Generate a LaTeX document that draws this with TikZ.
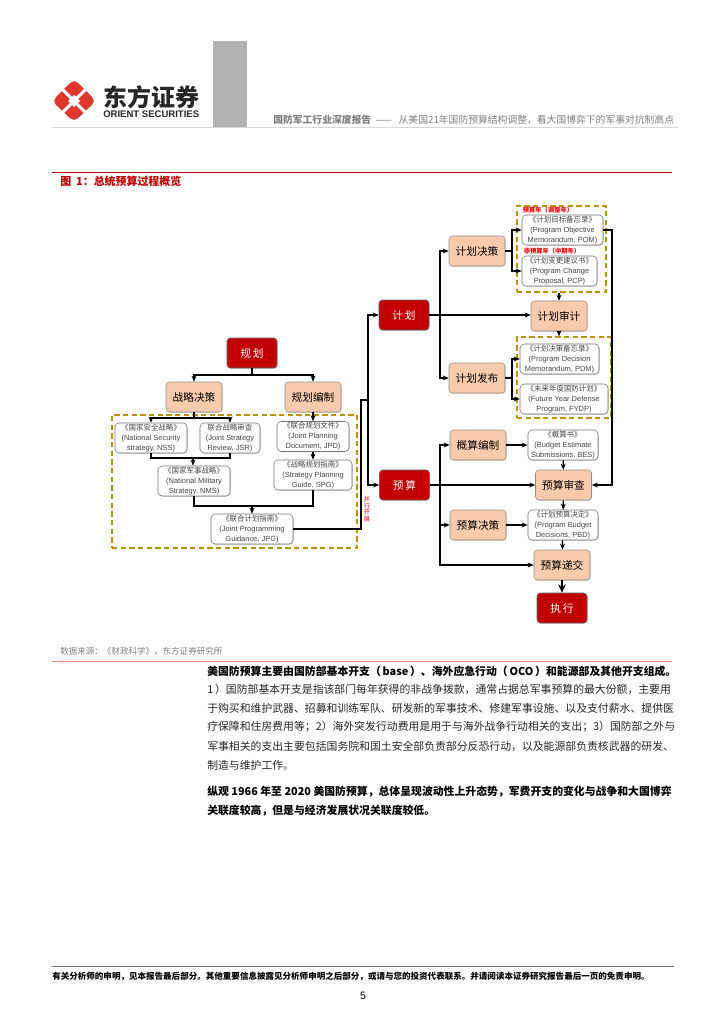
\documentclass[tikz,border=0pt]{standalone}
\usepackage{fontspec}
\setmainfont{Liberation Sans}
\newfontfamily\cjk{Noto Sans CJK SC}
\usetikzlibrary{arrows.meta,shadows}
\definecolor{brick}{RGB}{192,0,0}
\definecolor{peach}{RGB}{248,203,173}
\definecolor{gold}{RGB}{191,144,0}
\definecolor{logored}{RGB}{222,56,46}
\definecolor{ink}{RGB}{70,70,70}
\definecolor{salmon}{RGB}{240,130,130}
\tikzset{
  >={Stealth[length=1.6mm,width=1.3mm]},
  phase/.style={fill=brick,draw=black!60,rounded corners=2.5pt,text=white,minimum width=37.5pt,
    minimum height=22.5pt,inner sep=0pt,font=\cjk\fontsize{8}{9}\selectfont,
    drop shadow={opacity=0.45,shadow xshift=0.4pt,shadow yshift=-0.5pt}},
  stepbox/.style={fill=peach,draw=black!45,rounded corners=2.5pt,text=black,minimum width=42pt,
    minimum height=22.5pt,inner sep=0pt,font=\cjk\fontsize{8}{9}\selectfont,
    drop shadow={opacity=0.45,shadow xshift=0.4pt,shadow yshift=-0.5pt}},
  docbox/.style={fill=white,draw=black!55,rounded corners=3pt,text=ink,minimum height=22.5pt,inner sep=0pt,
    align=center,font=\fontsize{5.6}{7.5}\selectfont,
    drop shadow={opacity=0.5,shadow xshift=0.4pt,shadow yshift=-0.4pt}},
  zone/.style={draw=gold,dashed,line width=1pt,dash pattern=on 4pt off 2.5pt,inner sep=0pt},
  flow/.style={->,draw=black,line width=0.9pt},
  link/.style={draw=black,line width=0.9pt},
  note/.style={text=red,font=\cjk\bfseries\fontsize{4.7}{5}\selectfont,inner sep=0pt},
  bodyline/.style={anchor=west,inner sep=0pt,text=black!85,font=\cjk\fontsize{8.14}{9}\selectfont},
  boldline/.style={anchor=west,inner sep=0pt,text=black,font=\cjk\bfseries\fontsize{8.14}{9}\selectfont},
}
\newcommand{\zh}[1]{{\cjk #1}}
\begin{document}
\begin{tikzpicture}[x=0.75pt,y=-0.75pt]
  \useasboundingbox (0,0) rectangle (724,1024);
  \fill[white] (0,0) rectangle (724,1024);
  % page head
  \fill[black!30] (213,41) rectangle (247,127);
  \draw[black!15,line width=1pt] (52,127.5) -- (678,127.5);
  \fill[logored,rounded corners=4pt] (74,79) -- (96,101) -- (74,122) -- (52,101) -- cycle;
  \draw[white,line width=2.2pt] (59,86) -- (89,116) (89,86) -- (59,116);
  \fill[white] (74,95) -- (80,101) -- (74,107) -- (68,101) -- cycle;
  \node[anchor=west,inner sep=0pt,text=black!85,font=\cjk\bfseries\fontsize{18}{20}\selectfont] (brand) at (103,97) {东方证券};
  \node[anchor=west,inner sep=0pt,text=black!85,font=\bfseries\fontsize{7.15}{8}\selectfont] (brandlat) at (103,114) {ORIENT SECURITIES};
  \node[anchor=west,inner sep=0pt,text=black!50,font=\cjk\fontsize{7.35}{9}\selectfont] (headtitle) at (273,119.5) {\textbf{国防军工行业深度报告}\ \ ——\ \ \ 从美国21年国防预算结构调整，看大国博弈下的军事对抗制高点};
  \draw[brick,line width=0.8pt] (52,172.5) -- (672,172.5);
  \node[anchor=west,inner sep=0pt,text=brick,font=\cjk\bfseries\fontsize{8.2}{9}\selectfont] (figtitle) at (60,181.5) {图\ \ 1：总统预算过程概览};
  % zones
  \node[zone,minimum width=183.75pt,minimum height=99.75pt] (zoneplan) at (234.5,481.5) {};
  \node[zone,minimum width=66.75pt,minimum height=64.5pt] (zonepom) at (561.5,249) {};
  \node[zone,minimum width=70.5pt,minimum height=60.75pt] (zonepdm) at (564,377.5) {};
  % left block
  \node[phase] (guihua) at (252,353) {规\,划};
  \node[stepbox] (zhanlue) at (194,397) {战略决策};
  \node[stepbox] (bianzhi) at (313,397) {规划编制};
  \node[docbox,minimum width=54pt] (nss) at (151,438) {\zh{《国家安全战略》}\\(National Security\\strategy, NSS)};
  \node[docbox,minimum width=45pt] (jsr) at (230,438) {\zh{联合战略审查}\\(Joint Strategy\\Review, JSR)};
  \node[docbox,minimum width=54pt] (jpd) at (313,436.5) {\zh{《联合规划文件》}\\(Joint Planning\\Document, JPD)};
  \node[docbox,minimum width=58.5pt] (spg) at (313,475) {\zh{《战略规划指南》}\\(Strategy Planning\\Guide, SPG)};
  \node[docbox,minimum width=54pt] (nms) at (194,481) {\zh{《国家军事战略》}\\(National Military\\Strategy, NMS)};
  \node[docbox,minimum width=61.5pt] (jpg) at (252,529) {\zh{《联合计划指南》}\\(Joint Programming\\Guidance, JPG)};
  % middle
  \node[phase] (jihua) at (404,315) {计\,划};
  \node[phase] (yusuan) at (404.5,485) {预\,算};
  \node[note,align=center,font=\cjk\fontsize{4.6}{5}\selectfont] (parallel) at (367,509) {并\\行\\开\\展};
  % planning column
  \node[stepbox] (juece) at (477,251) {计划决策};
  \node[stepbox] (shenji) at (559,316) {计划审计};
  \node[stepbox] (fabu) at (477,378) {计划发布};
  \node[note] (noteyear) at (548,210.5) {预算年（调整年）};
  \node[note] (notemid) at (552,251) {非预算年（中期年）};
  \node[docbox,minimum width=60.75pt] (pom) at (562.5,230) {\zh{《计划目标备忘录》}\\(Program Objective\\Memorandum, POM)};
  \node[docbox,minimum width=56.25pt] (pcp) at (559.5,271) {\zh{《计划变更建议书》}\\(Program Change\\Proposal, PCP)};
  \node[docbox,minimum width=59.25pt] (pdm) at (559.5,359) {\zh{《计划决策备忘录》}\\(Program Decision\\Memorandum, PDM)};
  \node[docbox,minimum width=66pt] (fydp) at (564,399) {\zh{《未来年度国防计划》}\\(Future Year Defense\\Program, FYDP)};
  % budget column
  \node[stepbox] (gaisuan) at (478,445) {概算编制};
  \node[docbox,minimum width=52.5pt] (bes) at (563,445) {\zh{《概算书》}\\(Budget Estimate\\Submissions, BES)};
  \node[stepbox] (shencha) at (563.5,485) {预算审查};
  \node[stepbox] (ysjc) at (478,525) {预算决策};
  \node[docbox,minimum width=52.5pt] (pbd) at (563,525) {\zh{《计划预算决定》}\\(Program Budget\\Decisions, PBD)};
  \node[stepbox] (dijiao) at (562,565) {预算递交};
  \node[phase] (zhixing) at (562,608) {执\,行};
  % junctions
  \coordinate (j1) at (252,375);
  \coordinate (j2) at (194,418);
  \coordinate (j3) at (193,458);
  \coordinate (j4) at (252,506);
  \coordinate (j5) at (361,400);
  \coordinate (j6) at (368,400);
  \coordinate (j7) at (440,315);
  \coordinate (j8) at (512,251);
  \coordinate (j9) at (512,378);
  \coordinate (j10) at (440,485);
  \coordinate (j11) at (612,230);
  % left block links
  \draw[flow] (guihua) -- (j1) -| (zhanlue);
  \draw[flow] (j1) -| (bianzhi);
  \draw[link] (zhanlue) -- (j2);
  \draw[flow] (j2) -| (nss);
  \draw[flow] (j2) -| (jsr);
  \draw[flow] (bianzhi) -- (jpd);
  \draw[flow] (jpd) -- (spg);
  \draw[link] (nss.south) |- (j3) -| (jsr.south);
  \draw[flow] (j3) -- (nms.north -| j3);
  \draw[link] (nms.south) |- (j4) -| (spg.south);
  \draw[flow] (j4) -- (jpg);
  \draw[link] (jpg.east) -| (j5) -- (j6);
  \draw[flow] (j6) |- (jihua);
  \draw[flow] (j6) |- (yusuan);
  % planning links
  \draw[flow] (jihua) -- (shenji.west |- jihua);
  \draw[flow] (j7) |- (juece);
  \draw[flow] (j7) |- (fabu);
  \draw[link] (juece) -- (j8);
  \draw[flow] (j8) |- (pom);
  \draw[flow] (j8) |- (pcp);
  \draw[flow] (zonepom.south -| shenji) -- (shenji);
  \draw[flow] (shenji) -- (zonepdm.north -| shenji);
  \draw[link] (fabu) -- (j9);
  \draw[flow] (j9) |- (pdm);
  \draw[flow] (j9) |- (fydp);
  \draw[flow] (pom.east) -- (j11) |- (shencha);
  % budget links
  \draw[flow] (yusuan) -- (shencha);
  \draw[flow] (j10) |- (gaisuan);
  \draw[flow] (j10) |- (ysjc);
  \draw[flow] (j10) |- (dijiao);
  \draw[flow] (gaisuan) -- (bes);
  \draw[flow] (bes) -- (shencha);
  \draw[flow] (shencha) -- (pbd);
  \draw[flow] (ysjc) -- (pbd);
  \draw[flow] (pbd) -- (dijiao);
  \draw[flow,line width=2pt,-{Stealth[length=2.2mm,width=2mm]}] (dijiao) -- (zhixing);
  % source and text
  \node[anchor=west,inner sep=0pt,text=black!50,font=\cjk\fontsize{6.4}{7}\selectfont] (source) at (60,651) {数据来源：《财政科学》，东方证券研究所};
  \draw[salmon,line width=1pt] (52,661.5) -- (672,661.5);
  \node[boldline] (l1) at (207,671) {美国防预算主要由国防部基本开支（\,base\,）、海外应急行动（\,OCO\,）和能源部及其他开支组成。};
  \node[bodyline] (l2) at (207,689.5) {1\,）国防部基本开支是指该部门每年获得的非战争拨款，通常占据总军事预算的最大份额，主要用};
  \node[bodyline] (l3) at (207,708) {于购买和维护武器、招募和训练军队、研发新的军事技术、修建军事设施、以及支付薪水、提供医};
  \node[bodyline] (l4) at (207,727) {疗保障和住房费用等；2）海外突发行动费用是用于与海外战争行动相关的支出；3）国防部之外与};
  \node[bodyline] (l5) at (207,746) {军事相关的支出主要包括国务院和国土安全部负责部分反恐行动，以及能源部负责核武器的研发、};
  \node[bodyline] (l6) at (207,765) {制造与维护工作。};
  \node[boldline] (l7) at (207,792) {纵观 1966 年至 2020 美国防预算，总体呈现波动性上升态势，军费开支的变化与战争和大国博弈};
  \node[boldline] (l8) at (207,811) {关联度较高，但是与经济发展状况关联度较低。};
  % page foot
  \draw[black!55,line width=0.7pt] (52,966) -- (674,966);
  \node[anchor=west,inner sep=0pt,text=black,font=\cjk\bfseries\fontsize{6.4}{7}\selectfont] (foot) at (52,976) {有关分析师的申明，见本报告最后部分。其他重要信息披露见分析师申明之后部分，或请与您的投资代表联系。并请阅读本证券研究报告最后一页的免责申明。};
  \node[inner sep=0pt,font=\fontsize{8}{9}\selectfont] (pageno) at (363,996) {5};
\end{tikzpicture}
\end{document}
